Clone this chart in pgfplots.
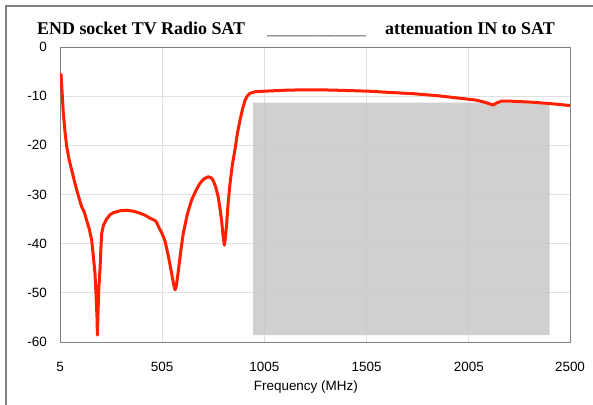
\documentclass[border=0pt]{standalone}
\usepackage{fontspec}
\setmainfont{Liberation Sans}
\newfontfamily\titlefont{Liberation Serif}
\usepackage{pgfplots}
\pgfplotsset{compat=1.18}
\definecolor{curvered}{RGB}{255,32,0}
\definecolor{boxgray}{RGB}{200,200,200}
\definecolor{framegray}{RGB}{128,128,128}
\begin{document}
\begin{tikzpicture}
\useasboundingbox (-60bp,-63bp) rectangle (533bp,342bp);
% outer frame (only left and top edges show)
\draw[framegray, line width=1.3bp] (-54bp,-63bp) -- (-54bp,336bp) -- (533bp,336bp);
\begin{axis}[
	at={(0,0)}, anchor=south west,
	scale only axis,
	width=510bp,
	height=295bp,
	xmin=5, xmax=2500,
	ymin=-60, ymax=0,
	xtick={5,505,1005,1505,2005,2500},
	ytick={-60,-50,-40,-30,-20,-10,0},
	major tick length=0pt,
	grid=major,
	grid style={draw=black!12, line width=0.8bp},
	axis line style={draw=black!50, line width=0.8bp},
	/pgf/number format/assume math mode=true,
	/pgf/number format/set thousands separator={},
	tick label style={font=\fontsize{13.5}{16}\selectfont},
	yticklabel style={anchor=east, inner sep=0pt, xshift=-13bp},
	xticklabel style={anchor=north, inner sep=0pt, yshift=-20bp},
	xlabel={Frequency (MHz)},
	xlabel style={at={(rel axis cs:0.482,0)}, anchor=base, inner sep=0pt,
		yshift=-48bp, font=\fontsize{13.5}{16}\selectfont},
]
% shaded SAT band
\addplot[fill=boxgray, fill opacity=0.85, draw=none]
	coordinates {(950,-11.3) (2400,-11.3) (2400,-58.6) (950,-58.6) (950,-11.3)};
% attenuation IN to SAT
\addplot[curvered, line width=3bp, line join=round, line cap=round] coordinates {
(5,-6.0) (10,-5.6) (15,-9) (21,-13.2) (30,-17.5) (38,-20.3) (50,-23) (62,-25)
(75,-27.2) (87,-29.1) (100,-31) (111,-32.5) (124,-33.6) (135,-35.2) (148,-37)
(160,-39.3) (168,-42.5) (176,-46) (182,-51) (186,-55) (188,-58.6) (191,-54)
(195,-49) (201,-45) (205,-41) (209,-37.9) (218,-36.2) (233,-35.0) (250,-34.1)
(266,-33.7) (300,-33.3) (331,-33.2) (365,-33.4) (396,-33.8) (420,-34.2)
(445,-34.8) (470,-35.3) (478,-35.7) (490,-36.8) (505,-38) (519,-39.5)
(535,-42.5) (551,-46) (562,-48.5) (568,-49.4) (574,-48.6) (584,-45.5)
(596,-41.5) (608,-37.9) (628,-34) (649,-31.1) (670,-29.2) (690,-27.7)
(710,-26.8) (730,-26.4) (745,-26.6) (755,-27.2) (767,-28.5) (779,-30.5)
(790,-33.5) (796,-35.5) (803,-38.5) (809,-40.3) (815,-38.5) (820,-36.2)
(828,-31.5) (837,-27.7) (848,-24) (861,-20.9) (873,-17.5) (886,-14.8)
(898,-12.6) (910,-10.9) (922,-9.9) (935,-9.4) (960,-9.1) (1000,-9.0)
(1100,-8.8) (1200,-8.7) (1326,-8.75) (1450,-8.9) (1522,-9.0) (1600,-9.2)
(1733,-9.5) (1850,-9.9) (1978,-10.5) (2040,-10.8) (2080,-11.2) (2110,-11.6)
(2125,-11.8) (2140,-11.4) (2165,-11.0) (2200,-11.0) (2304,-11.2) (2400,-11.5)
(2500,-11.9)};
\end{axis}
% title line
\node[anchor=base west, inner sep=0pt, font=\titlefont\bfseries\fontsize{18}{20}\selectfont]
	at (-23bp,307bp) {END socket TV Radio SAT};
\node[anchor=base west, inner sep=0pt, text=black!70, font=\titlefont\fontsize{18}{20}\selectfont]
	at (207bp,307bp) {\_\_\_\_\_\_\_\_\_\_\_};
\node[anchor=base west, inner sep=0pt, font=\titlefont\bfseries\fontsize{18}{20}\selectfont]
	at (325bp,307bp) {attenuation IN to SAT};
\end{tikzpicture}
\end{document}
